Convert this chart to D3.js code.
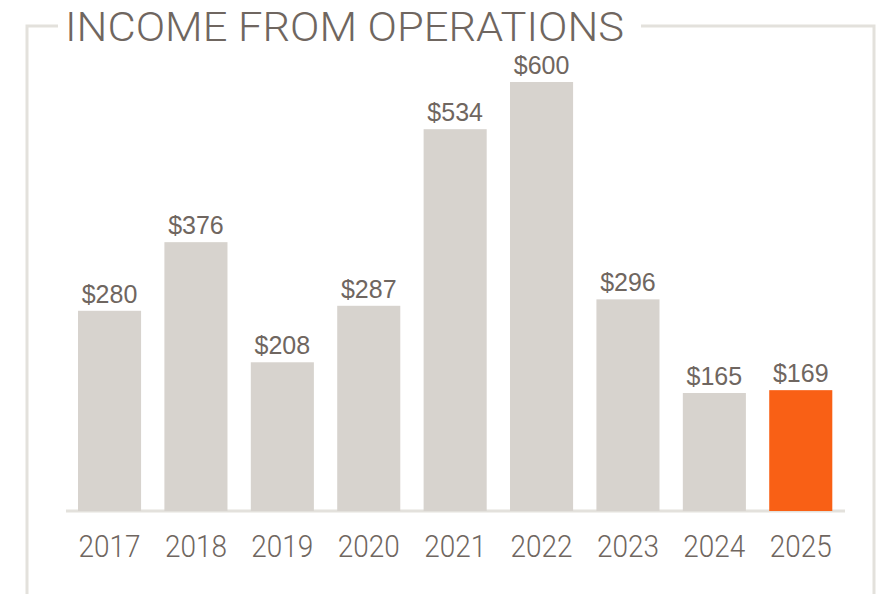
<!DOCTYPE html>
<html>
<head>
<meta charset="utf-8">
<script src="https://cdn.jsdelivr.net/npm/d3@7"></script>
<style>
  body { margin: 0; background: #fff; }
  svg { display: block; }
</style>
</head>
<body>
<div id="chart"></div>
<script>
const years = ["2017", "2018", "2019", "2020", "2021", "2022", "2023", "2024", "2025"];
const income = [280, 376, 208, 287, 534, 600, 296, 165, 169];
const valueLabels = ["$280", "$376", "$208", "$287", "$534", "$600", "$296", "$165", "$169"];
const title = "INCOME FROM OPERATIONS";

const width = 887, height = 594;
const svg = d3.select("#chart").append("svg")
    .attr("width", width)
    .attr("height", height);

const textColor = "#6f6660";
const frameColor = "#e3e1dc";
const lightFont = "Roboto, 'Liberation Sans', sans-serif";

// frame round the chart, broken by the title
svg.append("path")
    .attr("d", "M27,594 L27,26 L58,26 M641,26 L874,26 L874,594")
    .attr("fill", "none")
    .attr("stroke", frameColor)
    .attr("stroke-width", 3);

svg.append("text")
    .attr("x", 65)
    .attr("y", 41)
    .attr("font-family", lightFont)
    .attr("font-weight", 300)
    .attr("font-size", 41)
    .attr("fill", textColor)
    .attr("textLength", 559)
    .attr("lengthAdjust", "spacingAndGlyphs")
    .text(title);

const x = d3.scaleBand()
    .domain(years)
    .range([64, 846.3])
    .paddingInner(0.27)
    .paddingOuter(0.162);

const y = d3.scaleLinear()
    .domain([0, 600])
    .range([511, 82]);

// baseline
svg.append("line")
    .attr("x1", 66).attr("x2", 845)
    .attr("y1", 511).attr("y2", 511)
    .attr("stroke", frameColor)
    .attr("stroke-width", 3);

svg.selectAll("rect.bar")
    .data(years)
    .join("rect")
    .attr("class", "bar")
    .attr("x", d => x(d))
    .attr("width", x.bandwidth())
    .attr("y", (d, i) => y(income[i]))
    .attr("height", (d, i) => y(0) - y(income[i]))
    .attr("fill", (d, i) => i === years.length - 1 ? "#f96015" : "#d7d3ce");

svg.selectAll("text.value")
    .data(years)
    .join("text")
    .attr("class", "value")
    .attr("x", d => x(d) + x.bandwidth() / 2)
    .attr("y", (d, i) => y(income[i]) - 8)
    .attr("text-anchor", "middle")
    .attr("font-family", "'Liberation Sans', Arial, sans-serif")
    .attr("font-size", 25)
    .attr("fill", textColor)
    .text((d, i) => valueLabels[i]);

svg.selectAll("text.year")
    .data(years)
    .join("text")
    .attr("class", "year")
    .attr("x", d => x(d) + x.bandwidth() / 2)
    .attr("y", 557)
    .attr("text-anchor", "middle")
    .attr("font-family", lightFont)
    .attr("font-weight", 300)
    .attr("font-size", 31)
    .attr("fill", textColor)
    .attr("textLength", 62)
    .attr("lengthAdjust", "spacingAndGlyphs")
    .text(d => d);
</script>
</body>
</html>
